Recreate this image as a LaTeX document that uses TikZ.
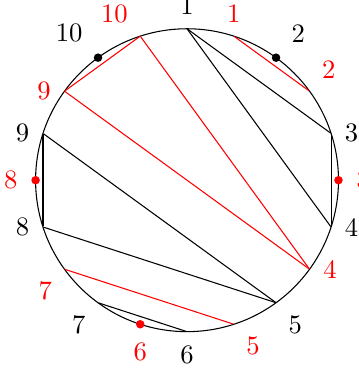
\documentclass[tikz,border=0pt]{standalone}
\usepackage{xcolor}
\usepackage{tikz}

\begin{document}
\begin{tikzpicture}[
    pt/.style={circle, inner sep=0pt, minimum size=0pt},
    dot/.style={pt, fill, minimum size=3.2pt},
    every label/.style={label distance=1.5pt}
]
    \useasboundingbox (-2.47,-2.48) rectangle (2.26,2.38);

    % Circle
    \draw (0,0) circle (2);

    % Black points - 1 at the top, going clockwise
    \foreach \i/\s/\p [evaluate=\i as \a using int(90-36*(\i-1))] in
        {1/pt/above, 2/dot/above right, 3/pt/right, 4/pt/right,
         5/pt/below right, 6/pt/below, 7/pt/below left, 8/pt/left,
         9/pt/left, 10/dot/above left}
        \node[\s, label={\p:\i}] (b\i) at (\a:2) {};

    % Red points - shifted half a step
    \foreach \i/\s/\p [evaluate=\i as \a using int(72-36*(\i-1))] in
        {1/pt/above, 2/pt/above right, 3/dot/right, 4/pt/right,
         5/pt/below right, 6/dot/below, 7/pt/below left, 8/dot/left,
         9/pt/left, 10/pt/above left}
        \node[\s, red, label={[red]\p:\i}] (r\i) at (\a:2) {};

    % Black chords
    \path
        (b1) edge (b3)
        (b1) edge (b4)
        (b3) edge (b4)
        (b9) edge (b8)
        (b9) edge (b5)
        (b8) edge (b5)
        (b7) edge (b6);

    % Red chords
    \path[red]
        (r1) edge (r2)
        (r10) edge (r9)
        (r10) edge (r4)
        (r9) edge (r4)
        (r7) edge (r5);

\end{tikzpicture}
\end{document}
